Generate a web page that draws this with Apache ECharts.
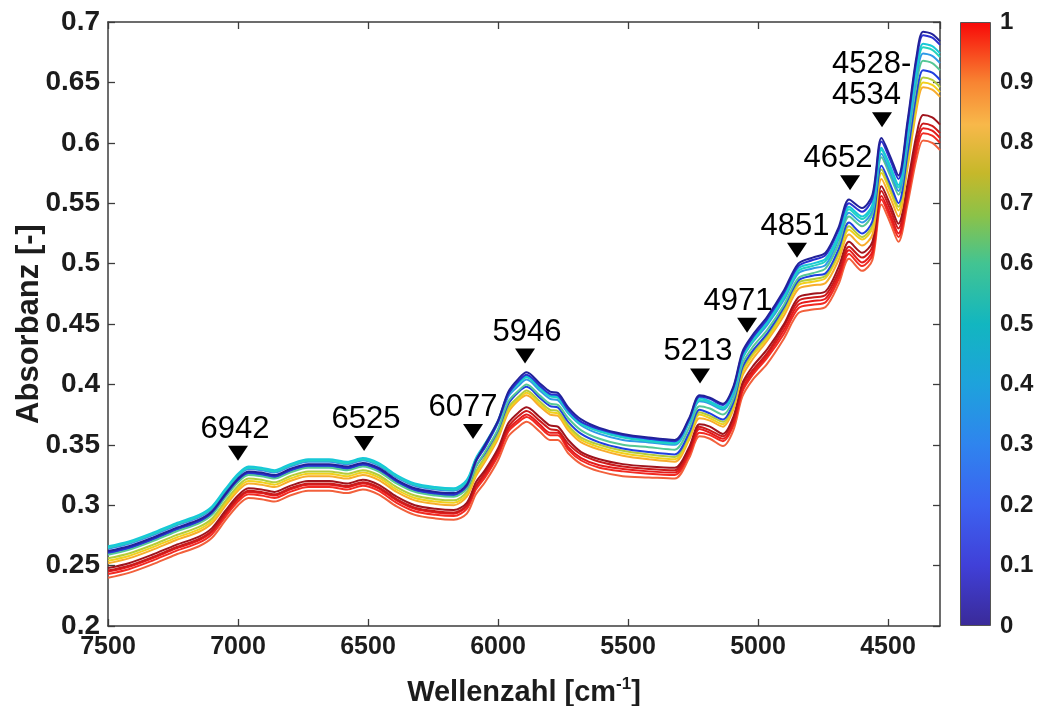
<!DOCTYPE html>
<html><head><meta charset="utf-8">
<script src="https://cdn.jsdelivr.net/npm/echarts@6/dist/echarts.min.js"></script>
<style>html,body{margin:0;padding:0;background:#fff}#c{width:1037px;height:706px}</style>
</head><body><div id="c"></div>
<script>
const wavenumbers = [7500,7420,7330,7240,7150,7100,7050,7000,6960,6910,6860,6800,6730,6650,6580,6520,6460,6390,6320,6240,6170,6120,6085,6050,6000,5960,5920,5890,5840,5800,5770,5730,5680,5610,5520,5420,5320,5265,5225,5185,5135,5095,5060,5020,4965,4900,4845,4790,4740,4690,4650,4600,4560,4525,4490,4460,4425,4390,4365,4330,4300];

const s1 = [.262,.266,.273,.281,.288,.295,.309,.322,.328,.327,.325,.330,.334,.334,.332,.335,.331,.321,.314,.311,.310,.317,.337,.350,.370,.394,.405,.410,.401,.394,.393,.381,.371,.364,.359,.356,.354,.372,.391,.389,.384,.398,.427,.441,.456,.478,.500,.505,.509,.530,.553,.546,.557,.604,.588,.573,.618,.672,.692,.690,.684];
const s2 = [.261,.265,.272,.280,.287,.294,.308,.321,.327,.326,.324,.329,.333,.333,.331,.334,.330,.320,.313,.310,.309,.316,.336,.348,.369,.392,.403,.408,.399,.392,.391,.379,.369,.363,.358,.355,.353,.371,.390,.388,.383,.397,.425,.439,.454,.476,.498,.503,.507,.528,.550,.543,.554,.601,.585,.570,.615,.669,.689,.687,.681];
const s3 = [.266,.270,.277,.285,.292,.299,.313,.326,.332,.331,.329,.334,.338,.338,.336,.339,.335,.325,.318,.315,.314,.321,.339,.351,.370,.393,.402,.407,.398,.391,.390,.378,.368,.362,.357,.354,.352,.370,.389,.386,.381,.395,.424,.438,.452,.474,.496,.500,.504,.524,.547,.539,.549,.596,.580,.565,.609,.662,.682,.680,.674];
const s4 = [.265,.269,.276,.284,.291,.298,.312,.325,.331,.330,.328,.333,.337,.337,.335,.338,.334,.324,.317,.314,.313,.320,.338,.350,.369,.392,.401,.406,.397,.390,.389,.377,.367,.361,.356,.353,.351,.369,.387,.385,.380,.394,.422,.436,.451,.472,.494,.498,.502,.522,.545,.537,.547,.594,.578,.563,.607,.659,.679,.677,.671];
const s5 = [.264,.268,.275,.283,.290,.297,.311,.324,.330,.329,.327,.332,.336,.336,.334,.337,.333,.323,.316,.313,.312,.319,.337,.348,.368,.390,.399,.404,.395,.388,.387,.376,.366,.359,.354,.352,.350,.368,.386,.384,.379,.392,.421,.435,.449,.470,.492,.496,.499,.520,.542,.534,.544,.591,.575,.560,.603,.655,.674,.672,.666];
const s6 = [.259,.263,.270,.278,.285,.292,.306,.319,.325,.324,.322,.327,.331,.331,.329,.332,.328,.318,.311,.308,.307,.314,.332,.344,.363,.386,.395,.400,.391,.384,.383,.372,.362,.355,.350,.348,.346,.364,.382,.380,.375,.388,.417,.431,.445,.466,.488,.492,.496,.516,.539,.531,.541,.588,.572,.557,.599,.649,.668,.666,.660];
const s7 = [.260,.264,.271,.279,.286,.293,.307,.320,.326,.325,.323,.328,.332,.332,.330,.333,.329,.319,.312,.309,.308,.314,.332,.343,.362,.384,.394,.398,.389,.382,.381,.369,.359,.352,.347,.344,.342,.360,.379,.376,.371,.385,.414,.428,.442,.464,.486,.490,.492,.512,.534,.525,.535,.581,.565,.550,.591,.641,.660,.658,.652];
const s8 = [.256,.260,.267,.275,.282,.289,.303,.316,.322,.321,.319,.324,.328,.328,.326,.329,.325,.315,.308,.305,.304,.311,.328,.340,.359,.381,.390,.395,.386,.379,.378,.366,.356,.350,.345,.342,.340,.358,.377,.374,.369,.383,.412,.426,.440,.462,.484,.487,.490,.509,.531,.522,.532,.578,.562,.547,.587,.636,.654,.652,.646];
const s9 = [.254,.258,.265,.273,.280,.287,.301,.314,.320,.319,.317,.322,.326,.326,.324,.327,.323,.313,.306,.303,.302,.309,.326,.338,.357,.379,.388,.393,.384,.377,.376,.364,.354,.348,.343,.340,.338,.356,.375,.372,.367,.381,.410,.424,.438,.460,.482,.485,.488,.507,.528,.520,.529,.575,.559,.544,.584,.632,.650,.648,.642];
const s10 = [.252,.256,.263,.271,.278,.285,.299,.312,.318,.317,.315,.320,.324,.324,.322,.325,.321,.311,.304,.301,.300,.307,.324,.336,.355,.377,.387,.391,.382,.375,.374,.362,.352,.346,.341,.338,.336,.354,.372,.370,.365,.379,.407,.421,.436,.457,.479,.482,.484,.503,.524,.515,.524,.570,.554,.539,.579,.628,.646,.644,.638];
const s11 = [.248,.252,.259,.267,.274,.281,.295,.308,.314,.313,.311,.316,.320,.320,.318,.321,.317,.307,.300,.297,.296,.302,.319,.329,.347,.368,.377,.381,.373,.366,.365,.354,.344,.338,.334,.332,.331,.348,.367,.365,.359,.373,.401,.415,.429,.450,.472,.475,.477,.497,.518,.509,.518,.564,.548,.533,.566,.607,.623,.621,.615];
const s12 = [.246,.250,.257,.265,.272,.279,.293,.306,.312,.311,.309,.314,.318,.318,.316,.319,.315,.305,.298,.295,.294,.300,.316,.327,.345,.365,.374,.378,.370,.363,.362,.351,.342,.336,.332,.330,.329,.346,.365,.362,.357,.371,.399,.412,.426,.448,.469,.472,.474,.493,.514,.505,.514,.560,.544,.529,.561,.601,.616,.614,.608];
const s13 = [.245,.249,.256,.264,.271,.278,.292,.305,.311,.310,.308,.313,.317,.317,.315,.318,.314,.304,.297,.294,.293,.299,.315,.325,.343,.363,.371,.375,.367,.360,.360,.348,.339,.333,.330,.328,.327,.344,.363,.360,.355,.368,.396,.410,.424,.445,.466,.469,.471,.490,.511,.501,.510,.556,.540,.525,.557,.597,.612,.610,.604];
const s14 = [.243,.247,.254,.262,.269,.276,.290,.303,.309,.308,.306,.311,.315,.315,.313,.316,.312,.302,.295,.292,.291,.297,.313,.323,.341,.361,.369,.373,.365,.358,.358,.346,.337,.331,.328,.326,.325,.342,.360,.358,.353,.366,.394,.408,.422,.442,.463,.466,.468,.487,.508,.498,.507,.553,.537,.522,.554,.593,.608,.606,.600];
const s15 = [.240,.244,.251,.259,.266,.273,.287,.300,.306,.305,.303,.308,.312,.312,.310,.313,.309,.299,.292,.289,.288,.293,.309,.319,.337,.357,.365,.369,.361,.354,.354,.343,.334,.328,.324,.323,.322,.339,.357,.355,.349,.362,.390,.404,.417,.438,.459,.462,.464,.483,.504,.494,.503,.549,.533,.518,.549,.587,.602,.600,.594];

const seriesValues = [s1,s2,s3,s4,s5,s6,s7,s8,s9,s10,s11,s12,s13,s14,s15];
const seriesColors = ['#22229a','#2a30d0','#18c8d8','#22d4c0','#2f9ae8','#56c896','#1f3fe0','#b4cc3a','#f2d01c','#f8ac2c','#a0141c','#cc1a1a','#e41c1c','#f22a22','#f2603c'];

const annX = [7000,6515,6096,5896,5223,5042,4850,4646,4523];
const annY = [0.343,0.351,0.361,0.4235,0.407,0.449,0.511,0.567,0.619];
const annText = ['6942','6525','6077','5946','5213','4971','4851','4652','4528-\n4534'];

const colorbarTicks = [0,0.1,0.2,0.3,0.4,0.5,0.6,0.7,0.8,0.9,1];

const FONT = '"Liberation Sans", Arial, Helvetica, sans-serif';
const AX = '#3c3c3c';
const TXT = '#1c1c1c';

const chart = echarts.init(document.getElementById('c'), null, {renderer:'canvas'});

const annDx = [-3,2,-10,2,-2,-9,-2,-12,0];
const lineSeries = seriesValues.map((vals,i)=>({
  type:'line', xAxisIndex:0, yAxisIndex:0,
  data: wavenumbers.map((w,k)=>[w, vals[k]]),
  showSymbol:false, smooth:0.3,
  lineStyle:{color:seriesColors[i], width:2},
  itemStyle:{color:seriesColors[i]},
  z: 2 + (seriesValues.length - i)*0.01
})).reverse();

const annSeries = {
  type:'scatter', xAxisIndex:0, yAxisIndex:0, z:10,
  symbol:'triangle', symbolRotate:180, symbolSize:[20,15],
  itemStyle:{color:'#000', opacity:1},
  label:{show:true, position:'top', distance:1, fontSize:31, fontFamily:FONT, color:'#000', opacity:1, lineHeight:31,
    formatter:p=>annText[p.dataIndex]},
  emphasis:{disabled:true},
  data: annX.map((x,i)=>{
    const d = {value:[x, annY[i]], label:{offset:[annDx[i],0]}};
    if (i === annX.length-1) d.label = {align:'left', offset:[-50,0]};
    return d;
  })
};

const gradStops = [
  {offset:0, color:'#3a2a98'},{offset:0.1, color:'#4040d8'},{offset:0.2, color:'#3c62f0'},
  {offset:0.3, color:'#2f84ee'},{offset:0.4, color:'#1ea2dc'},{offset:0.5, color:'#12b6c0'},
  {offset:0.6, color:'#42c492'},{offset:0.68, color:'#8cc248'},{offset:0.75, color:'#c6b82a'},
  {offset:0.83, color:'#f8b84a'},{offset:0.9, color:'#f88432'},{offset:1, color:'#f80808'}
];

const colorbarSeries = {
  type:'bar', xAxisIndex:2, yAxisIndex:2, data:[colorbarTicks[colorbarTicks.length-1]],
  barWidth:'100%', silent:true,
  itemStyle:{color:new echarts.graphic.LinearGradient(0,1,0,0,gradStops), borderColor:'#555', borderWidth:1}
};

const fmtY = v => String(Math.round(v*100)/100);
const fmtX = v => String(Math.round(v));
const lbl = {color:TXT, fontSize:28, fontWeight:'bold', fontFamily:FONT};

chart.setOption({
  animation:false,
  backgroundColor:'#fff',
  grid:[{left:108, right:97, top:22, bottom:80, containLabel:false, outerBoundsMode:'none'},
        {left:960, width:31, top:22, bottom:80, containLabel:false, outerBoundsMode:'none'}],
  xAxis:[
    {type:'value', gridIndex:0, min:4300, max:7500, inverse:true, splitNumber:7,
     axisLine:{show:true, onZero:false, lineStyle:{color:AX, width:1.5}},
     axisTick:{inside:true, length:7, lineStyle:{color:AX, width:1.3}},
     axisLabel:{showMinLabel:false, margin:9, formatter:fmtX, color:TXT, fontSize:25, fontWeight:'bold', fontFamily:FONT},
     splitLine:{show:false},
     name:'{t|Wellenzahl [cm}{s|-1}{t|]}', nameLocation:'middle', nameGap:50, nameMoveOverlap:false,
     nameTextStyle:{rich:{
       t:{fontSize:29, fontWeight:'bold', fontFamily:FONT, color:TXT, lineHeight:34},
       s:{fontSize:17, fontWeight:'bold', fontFamily:FONT, color:TXT, verticalAlign:'top', lineHeight:17}
     }}},
    {type:'value', gridIndex:0, position:'top', min:4300, max:7500, inverse:true, splitNumber:7,
     axisLine:{show:true, onZero:false, lineStyle:{color:AX, width:1.5}},
     axisTick:{inside:true, length:7, lineStyle:{color:AX, width:1.3}},
     axisLabel:{show:false}, splitLine:{show:false}},
    {type:'category', gridIndex:1, show:false, data:['c']}
  ],
  yAxis:[
    {type:'value', gridIndex:0, min:0.2, max:0.7, interval:0.05,
     axisLine:{show:true, onZero:false, lineStyle:{color:AX, width:1.5}},
     axisTick:{inside:true, length:7, lineStyle:{color:AX, width:1.3}},
     axisLabel:Object.assign({margin:8, formatter:fmtY}, lbl),
     splitLine:{show:false},
     name:'Absorbanz [-]', nameLocation:'middle', nameGap:63, nameMoveOverlap:false,
     nameTextStyle:{fontSize:31, fontWeight:'bold', fontFamily:FONT, color:TXT}},
    {type:'value', gridIndex:0, position:'right', min:0.2, max:0.7, interval:0.05,
     axisLine:{show:true, onZero:false, lineStyle:{color:AX, width:1.5}},
     axisTick:{inside:true, length:7, lineStyle:{color:AX, width:1.3}},
     axisLabel:{show:false}, splitLine:{show:false}},
    {type:'value', gridIndex:1, position:'right', min:0, max:1, interval:0.1,
     axisLine:{show:false},
     axisTick:{inside:true, length:5, lineStyle:{color:'#333', width:1.2}},
     axisLabel:{color:TXT, fontSize:24, fontWeight:'bold', fontFamily:FONT, margin:9, formatter:v=>String(Math.round(v*10)/10)},
     splitLine:{show:false}}
  ],
  series:[...lineSeries, annSeries, colorbarSeries]
});
</script></body></html>
